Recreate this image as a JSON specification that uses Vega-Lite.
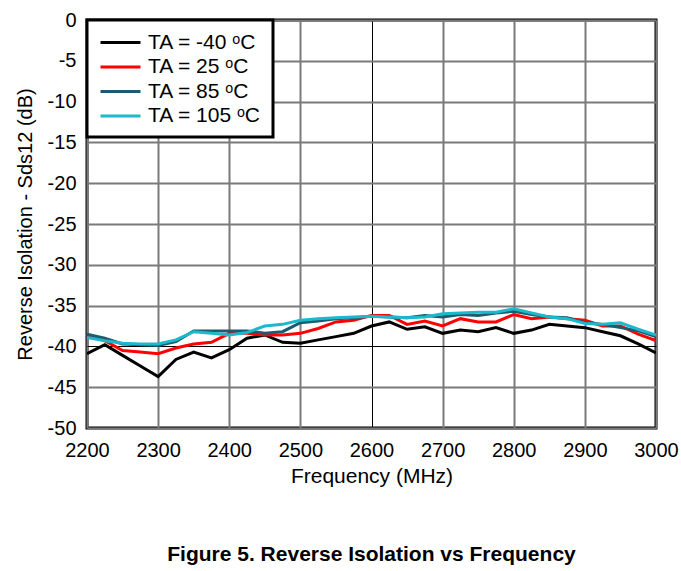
{
  "$schema": "https://vega.github.io/schema/vega-lite/v6.json",
  "width": 569,
  "height": 408,
  "autosize": {"type": "none"},
  "padding": {"left": 87, "top": 20, "right": 25, "bottom": 143},
  "background": "white",
  "title": {
    "text": "Figure 5. Reverse Isolation vs Frequency",
    "orient": "bottom",
    "anchor": "middle",
    "font": "Liberation Sans",
    "fontSize": 21,
    "fontWeight": "bold",
    "color": "black",
    "offset": 58
  },
  "config": {
    "view": {"stroke": "black", "strokeWidth": 3},
    "font": "Liberation Sans",
    "legend": {"strokeWidth": 3}
  },
  "datasets": {
    "s": [
      {"f":2200,"ta":"TA = -40 ᵒC","db":-40.9},{"f":2225,"ta":"TA = -40 ᵒC","db":-39.8},{"f":2250,"ta":"TA = -40 ᵒC","db":-41.1},{"f":2275,"ta":"TA = -40 ᵒC","db":-42.4},{"f":2300,"ta":"TA = -40 ᵒC","db":-43.7},{"f":2325,"ta":"TA = -40 ᵒC","db":-41.6},{"f":2350,"ta":"TA = -40 ᵒC","db":-40.7},{"f":2375,"ta":"TA = -40 ᵒC","db":-41.4},{"f":2400,"ta":"TA = -40 ᵒC","db":-40.4},{"f":2425,"ta":"TA = -40 ᵒC","db":-39.0},{"f":2450,"ta":"TA = -40 ᵒC","db":-38.6},{"f":2475,"ta":"TA = -40 ᵒC","db":-39.5},{"f":2500,"ta":"TA = -40 ᵒC","db":-39.6},{"f":2525,"ta":"TA = -40 ᵒC","db":-39.2},{"f":2550,"ta":"TA = -40 ᵒC","db":-38.8},{"f":2575,"ta":"TA = -40 ᵒC","db":-38.4},{"f":2600,"ta":"TA = -40 ᵒC","db":-37.5},{"f":2625,"ta":"TA = -40 ᵒC","db":-37.0},{"f":2650,"ta":"TA = -40 ᵒC","db":-37.9},{"f":2675,"ta":"TA = -40 ᵒC","db":-37.6},{"f":2700,"ta":"TA = -40 ᵒC","db":-38.4},{"f":2725,"ta":"TA = -40 ᵒC","db":-38.0},{"f":2750,"ta":"TA = -40 ᵒC","db":-38.2},{"f":2775,"ta":"TA = -40 ᵒC","db":-37.7},{"f":2800,"ta":"TA = -40 ᵒC","db":-38.4},{"f":2825,"ta":"TA = -40 ᵒC","db":-38.0},{"f":2850,"ta":"TA = -40 ᵒC","db":-37.3},{"f":2875,"ta":"TA = -40 ᵒC","db":-37.5},{"f":2900,"ta":"TA = -40 ᵒC","db":-37.7},{"f":2925,"ta":"TA = -40 ᵒC","db":-38.2},{"f":2950,"ta":"TA = -40 ᵒC","db":-38.7},{"f":2975,"ta":"TA = -40 ᵒC","db":-39.7},{"f":3000,"ta":"TA = -40 ᵒC","db":-40.8},
      {"f":2200,"ta":"TA = 25 ᵒC","db":-38.6},{"f":2225,"ta":"TA = 25 ᵒC","db":-39.3},{"f":2250,"ta":"TA = 25 ᵒC","db":-40.5},{"f":2275,"ta":"TA = 25 ᵒC","db":-40.7},{"f":2300,"ta":"TA = 25 ᵒC","db":-40.9},{"f":2325,"ta":"TA = 25 ᵒC","db":-40.2},{"f":2350,"ta":"TA = 25 ᵒC","db":-39.7},{"f":2375,"ta":"TA = 25 ᵒC","db":-39.5},{"f":2400,"ta":"TA = 25 ᵒC","db":-38.4},{"f":2425,"ta":"TA = 25 ᵒC","db":-38.4},{"f":2450,"ta":"TA = 25 ᵒC","db":-38.6},{"f":2475,"ta":"TA = 25 ᵒC","db":-38.6},{"f":2500,"ta":"TA = 25 ᵒC","db":-38.4},{"f":2525,"ta":"TA = 25 ᵒC","db":-37.8},{"f":2550,"ta":"TA = 25 ᵒC","db":-37.0},{"f":2575,"ta":"TA = 25 ᵒC","db":-36.8},{"f":2600,"ta":"TA = 25 ᵒC","db":-36.2},{"f":2625,"ta":"TA = 25 ᵒC","db":-36.2},{"f":2650,"ta":"TA = 25 ᵒC","db":-37.3},{"f":2675,"ta":"TA = 25 ᵒC","db":-36.9},{"f":2700,"ta":"TA = 25 ᵒC","db":-37.5},{"f":2725,"ta":"TA = 25 ᵒC","db":-36.6},{"f":2750,"ta":"TA = 25 ᵒC","db":-37.0},{"f":2775,"ta":"TA = 25 ᵒC","db":-37.0},{"f":2800,"ta":"TA = 25 ᵒC","db":-36.1},{"f":2825,"ta":"TA = 25 ᵒC","db":-36.6},{"f":2850,"ta":"TA = 25 ᵒC","db":-36.4},{"f":2875,"ta":"TA = 25 ᵒC","db":-36.6},{"f":2900,"ta":"TA = 25 ᵒC","db":-36.8},{"f":2925,"ta":"TA = 25 ᵒC","db":-37.5},{"f":2950,"ta":"TA = 25 ᵒC","db":-37.5},{"f":2975,"ta":"TA = 25 ᵒC","db":-38.5},{"f":3000,"ta":"TA = 25 ᵒC","db":-39.3},
      {"f":2200,"ta":"TA = 85 ᵒC","db":-38.5},{"f":2225,"ta":"TA = 85 ᵒC","db":-39.0},{"f":2250,"ta":"TA = 85 ᵒC","db":-39.7},{"f":2275,"ta":"TA = 85 ᵒC","db":-39.8},{"f":2300,"ta":"TA = 85 ᵒC","db":-39.9},{"f":2325,"ta":"TA = 85 ᵒC","db":-39.4},{"f":2350,"ta":"TA = 85 ᵒC","db":-38.1},{"f":2375,"ta":"TA = 85 ᵒC","db":-38.1},{"f":2400,"ta":"TA = 85 ᵒC","db":-38.1},{"f":2425,"ta":"TA = 85 ᵒC","db":-38.1},{"f":2450,"ta":"TA = 85 ᵒC","db":-38.4},{"f":2475,"ta":"TA = 85 ᵒC","db":-38.2},{"f":2500,"ta":"TA = 85 ᵒC","db":-37.1},{"f":2525,"ta":"TA = 85 ᵒC","db":-36.9},{"f":2550,"ta":"TA = 85 ᵒC","db":-36.6},{"f":2575,"ta":"TA = 85 ᵒC","db":-36.5},{"f":2600,"ta":"TA = 85 ᵒC","db":-36.3},{"f":2625,"ta":"TA = 85 ᵒC","db":-36.4},{"f":2650,"ta":"TA = 85 ᵒC","db":-36.5},{"f":2675,"ta":"TA = 85 ᵒC","db":-36.2},{"f":2700,"ta":"TA = 85 ᵒC","db":-36.4},{"f":2725,"ta":"TA = 85 ᵒC","db":-36.1},{"f":2750,"ta":"TA = 85 ᵒC","db":-36.2},{"f":2775,"ta":"TA = 85 ᵒC","db":-35.9},{"f":2800,"ta":"TA = 85 ᵒC","db":-35.7},{"f":2825,"ta":"TA = 85 ᵒC","db":-36.1},{"f":2850,"ta":"TA = 85 ᵒC","db":-36.4},{"f":2875,"ta":"TA = 85 ᵒC","db":-36.5},{"f":2900,"ta":"TA = 85 ᵒC","db":-37.1},{"f":2925,"ta":"TA = 85 ᵒC","db":-37.3},{"f":2950,"ta":"TA = 85 ᵒC","db":-37.7},{"f":2975,"ta":"TA = 85 ᵒC","db":-38.1},{"f":3000,"ta":"TA = 85 ᵒC","db":-38.8},
      {"f":2200,"ta":"TA = 105 ᵒC","db":-38.9},{"f":2225,"ta":"TA = 105 ᵒC","db":-39.3},{"f":2250,"ta":"TA = 105 ᵒC","db":-39.6},{"f":2275,"ta":"TA = 105 ᵒC","db":-39.7},{"f":2300,"ta":"TA = 105 ᵒC","db":-39.7},{"f":2325,"ta":"TA = 105 ᵒC","db":-39.2},{"f":2350,"ta":"TA = 105 ᵒC","db":-38.2},{"f":2375,"ta":"TA = 105 ᵒC","db":-38.4},{"f":2400,"ta":"TA = 105 ᵒC","db":-38.6},{"f":2425,"ta":"TA = 105 ᵒC","db":-38.3},{"f":2450,"ta":"TA = 105 ᵒC","db":-37.5},{"f":2475,"ta":"TA = 105 ᵒC","db":-37.3},{"f":2500,"ta":"TA = 105 ᵒC","db":-36.8},{"f":2525,"ta":"TA = 105 ᵒC","db":-36.6},{"f":2550,"ta":"TA = 105 ᵒC","db":-36.5},{"f":2575,"ta":"TA = 105 ᵒC","db":-36.4},{"f":2600,"ta":"TA = 105 ᵒC","db":-36.3},{"f":2625,"ta":"TA = 105 ᵒC","db":-36.4},{"f":2650,"ta":"TA = 105 ᵒC","db":-36.5},{"f":2675,"ta":"TA = 105 ᵒC","db":-36.4},{"f":2700,"ta":"TA = 105 ᵒC","db":-36.0},{"f":2725,"ta":"TA = 105 ᵒC","db":-35.9},{"f":2750,"ta":"TA = 105 ᵒC","db":-35.8},{"f":2775,"ta":"TA = 105 ᵒC","db":-35.8},{"f":2800,"ta":"TA = 105 ᵒC","db":-35.4},{"f":2825,"ta":"TA = 105 ᵒC","db":-35.9},{"f":2850,"ta":"TA = 105 ᵒC","db":-36.4},{"f":2875,"ta":"TA = 105 ᵒC","db":-36.6},{"f":2900,"ta":"TA = 105 ᵒC","db":-37.2},{"f":2925,"ta":"TA = 105 ᵒC","db":-37.3},{"f":2950,"ta":"TA = 105 ᵒC","db":-37.1},{"f":2975,"ta":"TA = 105 ᵒC","db":-37.9},{"f":3000,"ta":"TA = 105 ᵒC","db":-38.6}
    ]
  },
  "data": {"name": "s"},
  "mark": {"type": "line", "strokeWidth": 3, "clip": true},
  "encoding": {
    "x": {
      "field": "f",
      "type": "quantitative",
      "scale": {"domain": [2200, 3000], "nice": false},
      "axis": {
        "title": "Frequency (MHz)",
        "values": [2200, 2300, 2400, 2500, 2600, 2700, 2800, 2900, 3000],
        "format": "d",
        "domain": false,
        "ticks": false,
        "labelFontSize": 20,
        "labelColor": "black",
        "labelPadding": 12,
        "labelFlush": false,
        "titleFontSize": 21,
        "titleFontWeight": "normal",
        "titleColor": "black",
        "titlePadding": 5,
        "gridColor": {"condition": {"test": "datum.value === 2600", "value": "black"}, "value": "#7a7a7a"},
        "gridWidth": {"condition": {"test": "datum.value === 2600", "value": 1}, "value": 2},
        "gridOpacity": 1
      }
    },
    "y": {
      "field": "db",
      "type": "quantitative",
      "scale": {"domain": [-50, 0], "nice": false},
      "axis": {
        "title": "Reverse Isolation - Sds12 (dB)",
        "values": [-50, -45, -40, -35, -30, -25, -20, -15, -10, -5, 0],
        "labelExpr": "replace(datum.label, '−', '-')",
        "domain": false,
        "ticks": false,
        "labelFontSize": 20,
        "labelColor": "black",
        "labelPadding": 11,
        "labelFlush": false,
        "titleFontSize": 20,
        "titleFontWeight": "normal",
        "titleColor": "black",
        "titlePadding": 12,
        "gridColor": {"condition": {"test": "datum.value === -40", "value": "black"}, "value": "#7a7a7a"},
        "gridWidth": {"condition": {"test": "datum.value === -40", "value": 1}, "value": 2},
        "gridOpacity": 1
      }
    },
    "color": {
      "field": "ta",
      "type": "nominal",
      "scale": {
        "domain": ["TA = -40 ᵒC", "TA = 25 ᵒC", "TA = 85 ᵒC", "TA = 105 ᵒC"],
        "range": ["#000000", "#ff0000", "#1b5c6e", "#1cb9cc"]
      },
      "legend": {
        "title": null,
        "orient": "top-left",
        "offset": 0,
        "padding": 11,
        "fillColor": "white",
        "strokeColor": "black",
        "symbolType": "M-2,0H2",
        "symbolSize": 400,
        "symbolOffset": 11,
        "symbolStrokeWidth": 3,
        "labelFontSize": 21,
        "labelColor": "black",
        "labelOffset": 16,
        "rowPadding": 2.5,
        "labelLimit": 300
      }
    }
  }
}
